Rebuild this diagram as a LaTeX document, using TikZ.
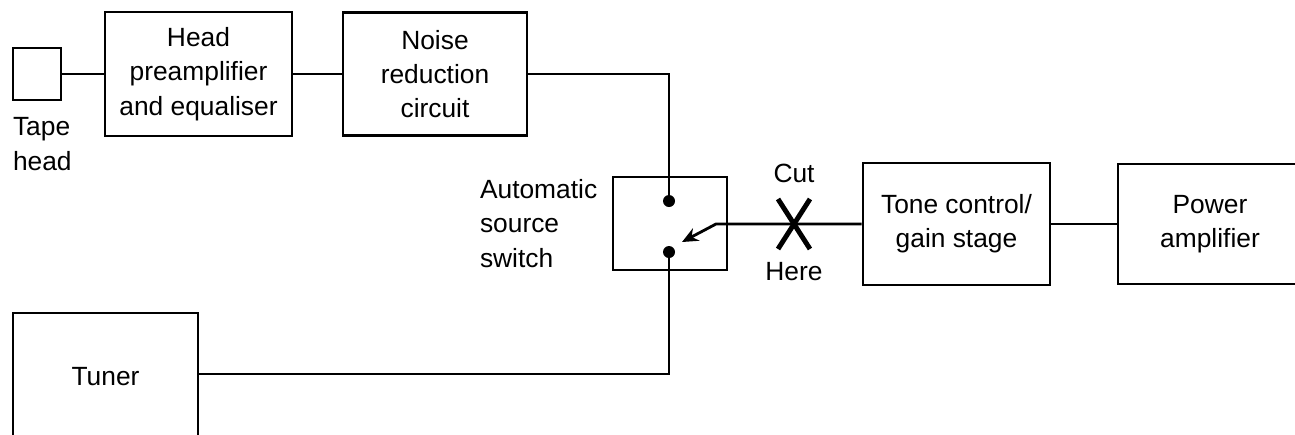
\documentclass[tikz,border=0pt]{standalone}
\usepackage{fontspec}
\setmainfont{Liberation Sans}
\usepackage{tikz}
\usetikzlibrary{arrows.meta, positioning}

\begin{document}
\begin{tikzpicture}[x=0.02cm, y=-0.02cm, line width=1.6pt,
    every node/.style={font=\fontsize{15}{19.5}\selectfont, inner sep=0pt},
    blk/.style={draw, align=center}]
    \useasboundingbox (0,0) rectangle (1295,434);
    \clip (0,0) rectangle (1295,434);
    \node[draw, minimum width=0.96cm, minimum height=1.04cm] (tape) at (37,74) {};
    \node[below=0.3cm of tape.south west, anchor=north west, align=left] (tapelbl) {Tape\\head};
    \node[blk, minimum width=3.74cm, minimum height=2.48cm] (head) at (198.5,74) {Head\\preamplifier\\and equaliser};
    \node[blk, minimum width=3.68cm, minimum height=2.46cm] (noise) at (435,74) {Noise\\reduction\\circuit};
    \node[blk, minimum width=2.28cm, minimum height=1.86cm] (sw) at (670,223.5) {};
    \node[left=0.26cm of sw, align=left] (swlbl) {Automatic\\source\\switch};
    \node[blk, minimum width=3.7cm, minimum height=2.56cm] (tuner) at (105.5,377) {Tuner};
    \node[blk, minimum width=3.74cm, minimum height=2.44cm] (tone) at (956.5,224) {Tone control/\\gain stage};
    \node[blk, minimum width=3.68cm, minimum height=2.4cm] (power) at (1210,224) {Power\\amplifier};
    \coordinate (dtop) at (669,201);
    \coordinate (dbot) at (669,252);
    \coordinate (bend) at (716,224);
    \coordinate (wiper) at (682,242);
    \coordinate (cut) at (794,224);
    \node[above=0.8cm of cut] (cutlbl) {Cut};
    \node[below=0.74cm of cut] (herelbl) {Here};
    \draw (tape) -- (head);
    \draw (head) -- (noise);
    \draw (noise) -| (dtop);
    \draw (tuner.east |- 0,374) -| (dbot);
    \draw (tone) -- (power);
    \draw[-{Stealth[length=3.2mm, width=2.8mm]}] (tone.west) -- (bend) -- (wiper);
    \fill (dtop) circle (0.12cm) (dbot) circle (0.12cm);
    % the cut mark
    \draw[line width=2.8pt] (cut) ++(-16,-25) -- ++(32,50) (cut) ++(16,-25) -- ++(-32,50);
\end{tikzpicture}
\end{document}
